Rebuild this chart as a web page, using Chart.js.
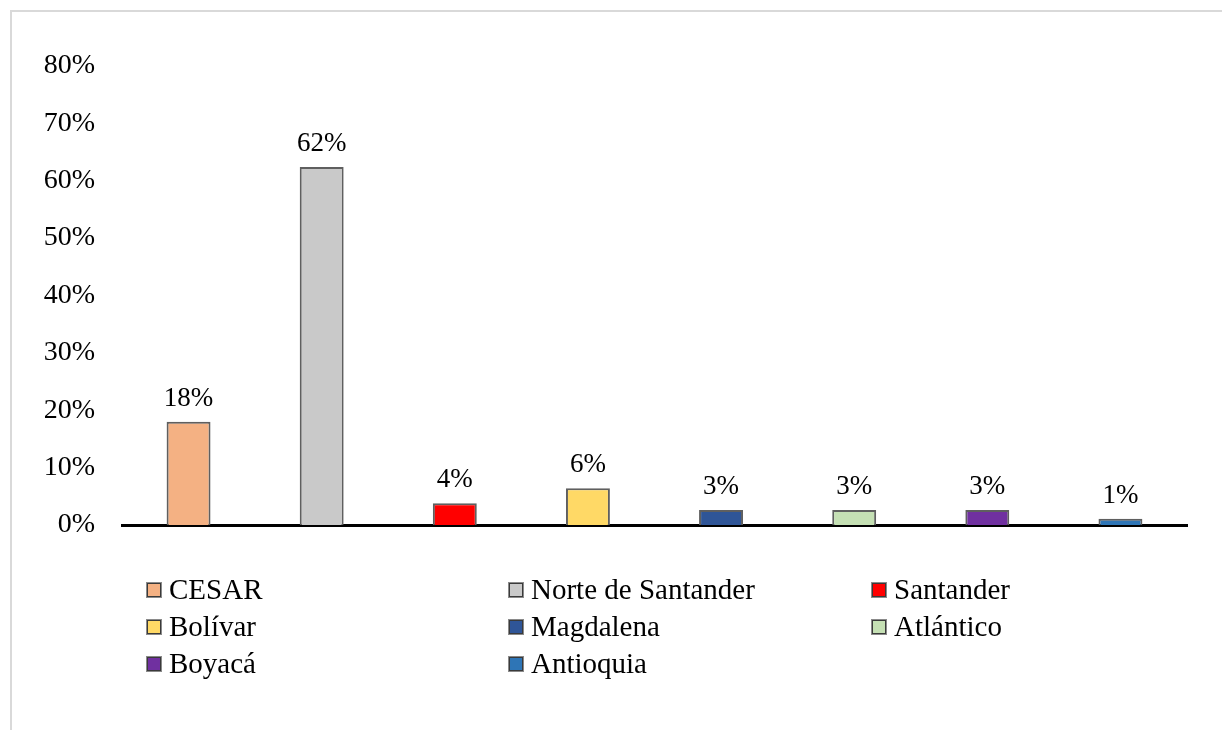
<!DOCTYPE html>
<html>
<head>
<meta charset="utf-8">
<script src="https://cdn.jsdelivr.net/npm/chart.js@4/dist/chart.umd.min.js"></script>
<style>
  html, body { margin: 0; padding: 0; background: #fff; }
  body { width: 1222px; height: 730px; position: relative; overflow: hidden; }
  #frame { position: absolute; left: 10px; top: 10px; width: 1240px; height: 800px; border: 2px solid #d9d9d9; box-sizing: border-box; }
  #c { position: absolute; left: 0; top: 0; }
  .lg { position: absolute; height: 32px; line-height: 32px; font-family: "Liberation Serif", "Times New Roman", serif; font-size: 29px; color: #000; white-space: nowrap; }
  .lg .box { position: absolute; left: 0; top: 9px; width: 16px; height: 16px; box-sizing: border-box; border: 1px solid #8a8a8a; box-shadow: inset 0 0 0 1px #3a3a3a; }
  .lg .txt { position: absolute; left: 23px; top: 0; }
</style>
</head>
<body>
<div id="frame"></div>
<canvas id="c" width="1222" height="730"></canvas>
<div id="legend"></div>
<script>
// ---- data ----
const categories = ['CESAR', 'Norte de Santander', 'Santander', 'Bolívar', 'Magdalena', 'Atlántico', 'Boyacá', 'Antioquia'];
const values = [18.0, 62.4, 3.8, 6.4, 2.6, 2.6, 2.6, 1.1];
const barColors = ['#F4B183', '#C9C9C9', '#FF0000', '#FFD966', '#2F5597', '#C5E0B4', '#7030A0', '#2E75B6'];
const yTickValues = [0, 10, 20, 30, 40, 50, 60, 70, 80];

// ---- layout constants ----
const FONT = '"Liberation Serif", "Times New Roman", serif';
const legendCols = [146, 508, 871];
const legendTop = 573;
const legendPitch = 37;

const dataLabels = {
  id: 'dataLabels',
  afterDatasetsDraw(chart) {
    const ctx = chart.ctx;
    const meta = chart.getDatasetMeta(0);
    ctx.save();
    ctx.font = '27px ' + FONT;
    ctx.fillStyle = '#000';
    ctx.textAlign = 'center';
    ctx.textBaseline = 'alphabetic';
    meta.data.forEach((el, i) => {
      ctx.fillText(Math.round(values[i]) + '%', el.x, el.y - 16);
    });
    ctx.restore();
  }
};

new Chart(document.getElementById('c'), {
  type: 'bar',
  data: {
    labels: categories,
    datasets: [{
      data: values,
      backgroundColor: barColors,
      borderColor: '#5f5f5f',
      borderWidth: 2,
      borderSkipped: 'bottom',
      barPercentage: 0.33,
      categoryPercentage: 1.0
    }]
  },
  options: {
    responsive: false,
    animation: false,
    devicePixelRatio: 1,
    layout: { padding: { left: 0, right: 35, top: 66, bottom: 205 } },
    plugins: { legend: { display: false }, tooltip: { enabled: false } },
    scales: {
      x: {
        ticks: { display: false },
        grid: { display: false, drawTicks: false },
        border: { display: true, color: '#000', width: 3 }
      },
      y: {
        min: 0, max: 80,
        afterBuildTicks(scale) { scale.ticks = yTickValues.map(v => ({ value: v })); },
        afterFit(scale) { scale.width = 122; },
        ticks: {
          callback: v => v + '%',
          font: { family: FONT, size: 28 },
          color: '#000',
          padding: 27
        },
        grid: { display: false, drawTicks: false },
        border: { display: false }
      }
    }
  },
  plugins: [dataLabels]
});

// ---- legend ----
const legend = document.getElementById('legend');
categories.forEach((name, i) => {
  const item = document.createElement('div');
  item.className = 'lg';
  item.style.left = legendCols[i % 3] + 'px';
  item.style.top = (legendTop + Math.floor(i / 3) * legendPitch) + 'px';
  const box = document.createElement('span');
  box.className = 'box';
  box.style.background = barColors[i];
  const txt = document.createElement('span');
  txt.className = 'txt';
  txt.textContent = name;
  item.appendChild(box);
  item.appendChild(txt);
  legend.appendChild(item);
});
</script>
</body>
</html>
